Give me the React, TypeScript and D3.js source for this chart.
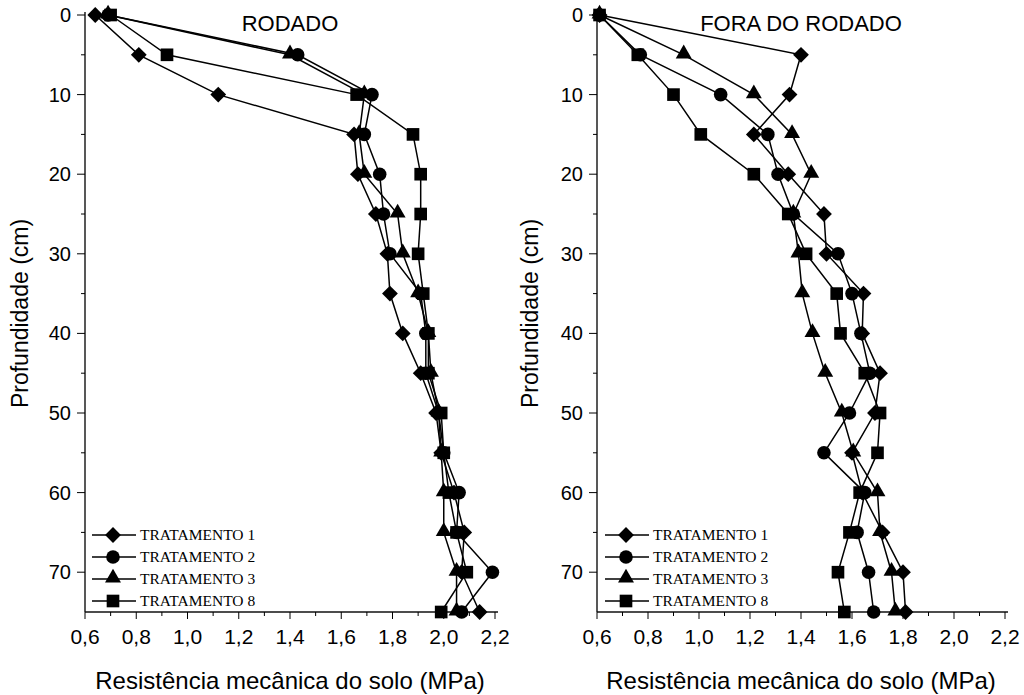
import React from 'react'
import * as d3 from 'd3'

// profundidade (cm)
const depths = [0, 5, 10, 15, 20, 25, 30, 35, 40, 45, 50, 55, 60, 65, 70, 75]

// RODADO - resistencia (MPa)
const rodadoT1 = [0.64, 0.81, 1.12, 1.65, 1.665, 1.735, 1.78, 1.79, 1.84, 1.91, 1.97, 1.99, 2.04, 2.08, 2.07, 2.14]
const rodadoT2 = [0.69, 1.43, 1.72, 1.69, 1.75, 1.765, 1.79, 1.91, 1.93, 1.93, 1.98, 2.0, 2.06, 2.05, 2.19, 2.07]
const rodadoT3 = [0.69, 1.4, 1.69, 1.67, 1.69, 1.82, 1.84, 1.9, 1.94, 1.95, 1.98, 1.99, 2.0, 2.0, 2.05, 2.05]
const rodadoT8 = [0.7, 0.92, 1.66, 1.88, 1.91, 1.91, 1.9, 1.92, 1.94, 1.94, 1.99, 2.0, 2.02, 2.05, 2.09, 1.99]

// FORA DO RODADO - resistencia (MPa)
const foraT1 = [0.61, 1.4, 1.355, 1.215, 1.35, 1.49, 1.5, 1.645, 1.64, 1.71, 1.69, 1.6, 1.64, 1.72, 1.8, 1.81]
const foraT2 = [0.61, 0.77, 1.085, 1.27, 1.31, 1.37, 1.545, 1.6, 1.635, 1.67, 1.59, 1.49, 1.65, 1.62, 1.665, 1.685]
const foraT3 = [0.61, 0.94, 1.215, 1.365, 1.44, 1.37, 1.39, 1.405, 1.445, 1.495, 1.56, 1.605, 1.7, 1.71, 1.755, 1.77]
const foraT8 = [0.61, 0.76, 0.9, 1.007, 1.215, 1.35, 1.42, 1.54, 1.555, 1.65, 1.71, 1.7, 1.63, 1.59, 1.545, 1.57]

const seriesNames = ['TRATAMENTO 1', 'TRATAMENTO 2', 'TRATAMENTO 3', 'TRATAMENTO 8']
const markers = ['diamond', 'circle', 'triangle', 'square']
const xTicks = [0.6, 0.8, 1.0, 1.2, 1.4, 1.6, 1.8, 2.0, 2.2]
const yTicks = [0, 10, 20, 30, 40, 50, 60, 70]

const W = 1024
const H = 695
const top = 15
const bottom = 612

const sans = 'Liberation Sans, Arial, sans-serif'
const serif = 'Liberation Serif, Times New Roman, serif'

const symbolOf: Record<string, any> = {
  diamond: d3.symbol().type(d3.symbolSquare).size(125),
  circle: d3.symbol().type(d3.symbolCircle).size(145),
  triangle: d3.symbol().type(d3.symbolTriangle).size(110),
  square: d3.symbol().type(d3.symbolSquare).size(160),
}

function Marker({ type, x, y }: { type: string; x: number; y: number }) {
  const rot = type === 'diamond' ? ' rotate(45)' : ''
  const dy = type === 'triangle' ? -1 : 0
  return <path d={symbolOf[type]()} transform={`translate(${x},${y + dy})${rot}`} fill="#000" />
}

function Panel({ x0, x1, title, data, legendX, ylabelX }: any) {
  const x = d3.scaleLinear().domain([0.6, 2.2]).range([x0, x1])
  const y = d3.scaleLinear().domain([0, 75]).range([top, bottom])
  const line = d3.line<number>().x((d) => x(d)).y((d, i) => y(depths[i]))
  const minorX = d3.range(0.6, 2.25, 0.1)
  const minorY = d3.range(5, 75, 10)
  const legendRows = [535, 557, 579, 601]
  return (
    <g>
      {/* eixos */}
      <line x1={x0} x2={x0} y1={top - 3} y2={bottom} stroke="#111" strokeWidth={1.4} />
      <line x1={x0} x2={x1 + 3} y1={bottom} y2={bottom} stroke="#111" strokeWidth={1.4} />
      {yTicks.map((t) => (
        <g key={t}>
          <line x1={x0 - 8} x2={x0} y1={y(t)} y2={y(t)} stroke="#000" strokeWidth={1} />
          <text x={x0 - 14} y={y(t) + 7} textAnchor="end" fontFamily={sans} fontSize={20}>
            {t}
          </text>
        </g>
      ))}
      {minorY.map((t) => (
        <line key={t} x1={x0 - 4} x2={x0} y1={y(t)} y2={y(t)} stroke="#000" strokeWidth={1} />
      ))}
      {minorX.map((t, i) => (
        <line key={i} x1={x(t)} x2={x(t)} y1={bottom} y2={bottom + (i % 2 === 0 ? 7 : 4)} stroke="#000" strokeWidth={1} />
      ))}
      {xTicks.map((t) => (
        <text key={t} x={x(t)} y={bottom + 32} textAnchor="middle" fontFamily={sans} fontSize={21}>
          {d3.format('.1f')(t).replace('.', ',')}
        </text>
      ))}
      <text x={(x0 + x1) / 2} y={bottom + 77} textAnchor="middle" fontFamily={sans} fontSize={24}>
        Resistência mecânica do solo (MPa)
      </text>
      <text transform={`translate(${ylabelX},${(top + bottom) / 2}) rotate(-90)`} textAnchor="middle" fontFamily={sans} fontSize={23}>
        Profundidade  (cm)
      </text>
      <text x={(x0 + x1) / 2} y={31} textAnchor="middle" fontFamily={sans} fontSize={22}>
        {title}
      </text>

      {/* series */}
      {data.map((s: number[], k: number) => (
        <g key={k}>
          <path d={line(s) || ''} fill="none" stroke="#000" strokeWidth={1.5} />
          {s.map((v, i) => (
            <Marker key={i} type={markers[k]} x={x(v)} y={y(depths[i])} />
          ))}
        </g>
      ))}

      {/* legenda */}
      {seriesNames.map((n, k) => (
        <g key={n}>
          <line x1={legendX} x2={legendX + 44} y1={legendRows[k]} y2={legendRows[k]} stroke="#000" strokeWidth={1.5} />
          <Marker type={markers[k]} x={legendX + 21} y={legendRows[k]} />
          <text x={legendX + 48} y={legendRows[k] + 5} fontFamily={serif} fontSize={15.5}>
            {n}
          </text>
        </g>
      ))}
    </g>
  )
}

export default function App() {
  return (
    <svg width={W} height={H} style={{ position: 'absolute', left: 0, top: 0, background: '#fff' }}>
      <rect width={W} height={H} fill="#fff" />
      <Panel
        x0={85}
        x1={495}
        title="RODADO"
        data={[rodadoT1, rodadoT2, rodadoT3, rodadoT8]}
        legendX={92}
        ylabelX={28}
      />
      <Panel
        x0={597}
        x1={1005}
        title="FORA DO RODADO"
        data={[foraT1, foraT2, foraT3, foraT8]}
        legendX={605}
        ylabelX={538}
      />
    </svg>
  )
}
